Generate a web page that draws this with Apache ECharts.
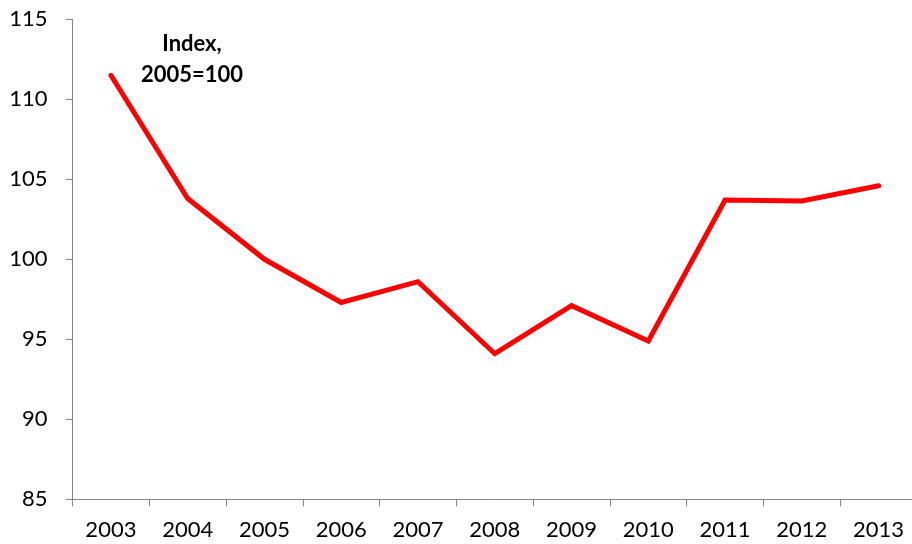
<!DOCTYPE html>
<html>
<head>
<meta charset="utf-8">
<script src="https://cdn.jsdelivr.net/npm/echarts@6/dist/echarts.min.js"></script>
<style>
  html, body { margin: 0; padding: 0; background: #fff; overflow: hidden; }
  /* plot runs a few px past the right edge in the original, so the canvas is a bit wider */
  #chart { width: 917px; height: 544px; }
</style>
</head>
<body>
<div id="chart"></div>
<script>
// years on the x axis
var years = ["2003", "2004", "2005", "2006", "2007", "2008", "2009", "2010", "2011", "2012", "2013"];
// index, 2005 = 100
var indexValues = [111.5, 103.8, 100.0, 97.3, 98.6, 94.1, 97.1, 94.9, 103.7, 103.65, 104.6];
var yTicks = [85, 90, 95, 100, 105, 110, 115];

var font = "Lato, 'Open Sans', sans-serif";
var axisGrey = "#868686";

var chart = echarts.init(document.getElementById("chart"));
chart.setOption({
    animation: false,
    backgroundColor: "#fff",
    grid: {
        left: 72.5,
        right: 0,
        top: 19.3,
        bottom: 44.7,
        containLabel: false
    },
    xAxis: {
        type: "category",
        data: years,
        boundaryGap: true,
        axisLine: { lineStyle: { color: axisGrey, width: 1 } },
        axisTick: { show: true, length: 7, lineStyle: { color: axisGrey } },
        axisLabel: { color: "#000", fontSize: 22, fontFamily: font, margin: 20 },
        splitLine: { show: false }
    },
    yAxis: {
        type: "value",
        min: yTicks[0],
        max: yTicks[yTicks.length - 1],
        interval: 5,
        axisLine: { show: true, lineStyle: { color: axisGrey, width: 1 } },
        axisTick: { show: true, length: 7, lineStyle: { color: axisGrey } },
        axisLabel: { color: "#000", fontSize: 22, fontFamily: font, margin: 25 },
        splitLine: { show: false }
    },
    series: [{
        type: "line",
        data: indexValues,
        symbol: "none",
        lineStyle: { color: "#ff0000", width: 5, cap: "round", join: "miter" }
    }],
    graphic: [{
        type: "text",
        x: 192,
        y: 28,
        style: {
            text: "Index,\n2005=100",
            align: "center",
            verticalAlign: "top",
            fill: "#000",
            font: "bold 22px " + font,
            lineHeight: 31
        }
    }]
});
</script>
</body>
</html>
